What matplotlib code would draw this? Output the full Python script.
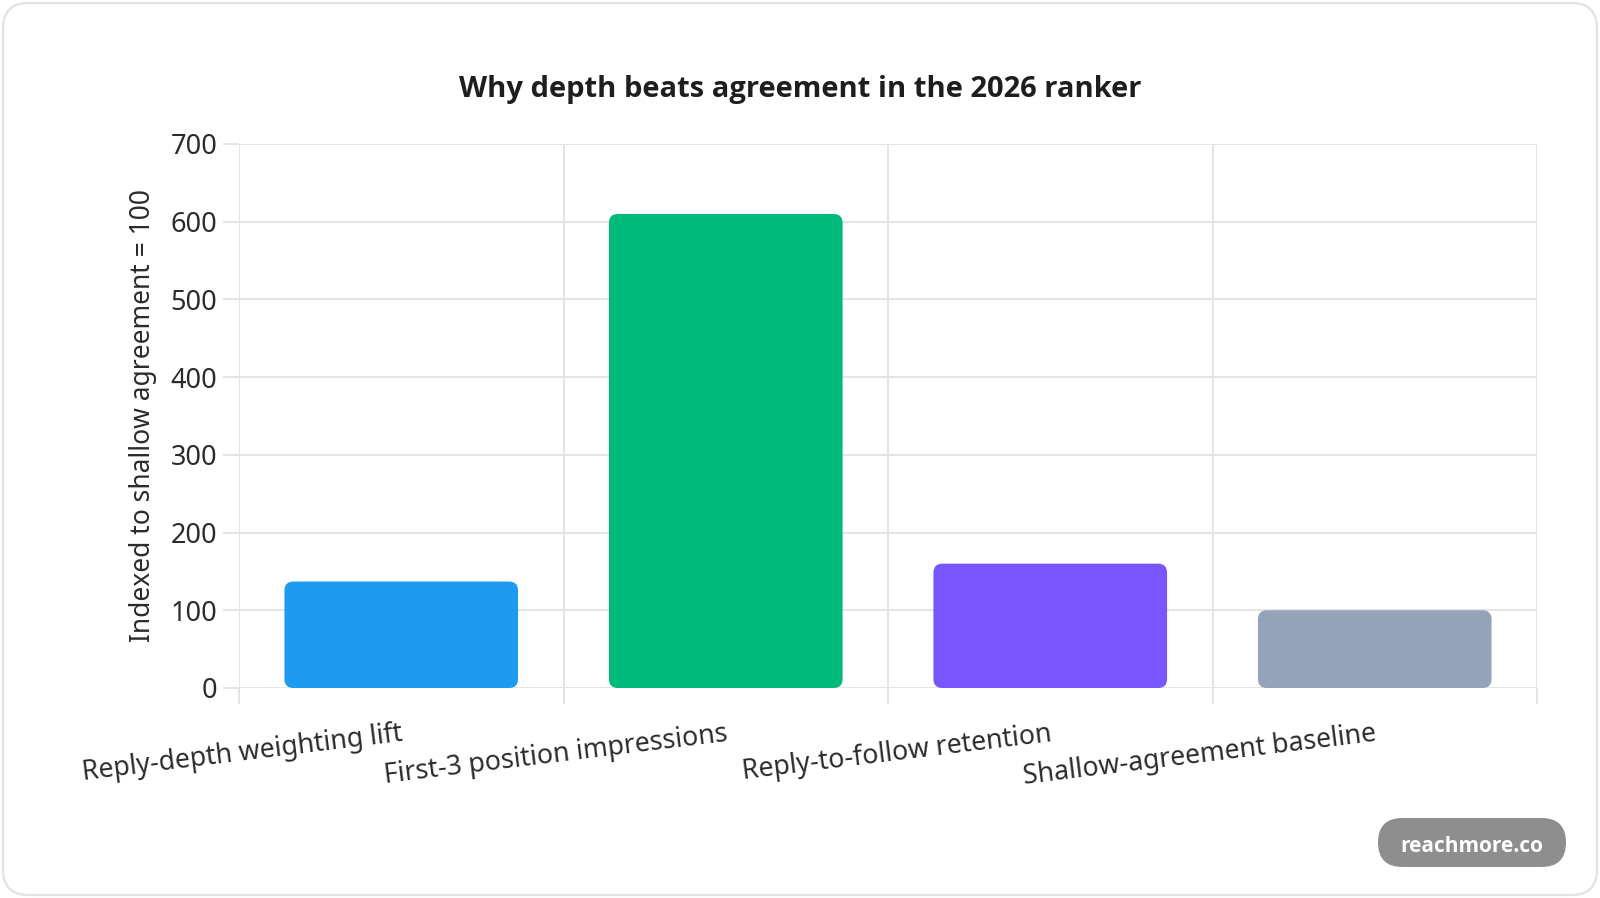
import matplotlib
matplotlib.use("Agg")
import matplotlib.pyplot as plt
from matplotlib.patches import FancyBboxPatch
import numpy as np

plt.rcParams['font.family'] = ['Noto Sans', 'DejaVu Sans']

# data
categories = ['Reply-depth weighting lift', 'First-3 position impressions',
              'Reply-to-follow retention', 'Shallow-agreement baseline']
values = [137, 610, 160, 100]
colors = ['#1D9BF0', '#00BA7C', '#7856FF', '#94A3B8']
y_ticks = [0, 100, 200, 300, 400, 500, 600, 700]

title = 'Why depth beats agreement in the 2026 ranker'
y_label = 'Indexed to shallow agreement = 100'
watermark = 'reachmore.co'

W, H = 1600, 898
fig = plt.figure(figsize=(W / 100, H / 100), dpi=100)
fig.patch.set_facecolor('white')

# card border
card = FancyBboxPatch((3 / W, 3 / H), (W - 6) / W, (H - 6) / H,
                      boxstyle='round,pad=0,rounding_size=0.016',
                      mutation_aspect=W / H,
                      transform=fig.transFigure, facecolor='none',
                      edgecolor='#e2e2e2', linewidth=1.6, zorder=-5)
fig.patches.append(card)

ax = fig.add_axes([239 / W, 1 - 688 / H, (1537 - 239) / W, (688 - 144) / H])
ax.set_facecolor('none')
grid_c = '#e4e4e4'

ax.set_xlim(-0.5, len(categories) - 0.5)
ax.set_ylim(0, 700)

x = np.arange(len(categories))
bars = ax.bar(x, values, width=0.72, color=colors)

# swap the plain bars for rounded ones
fig.canvas.draw()
px_x = ax.transData.transform((1, 0))[0] - ax.transData.transform((0, 0))[0]
px_y = ax.transData.transform((0, 1))[1] - ax.transData.transform((0, 0))[1]
radius_px = 9
for b in bars:
    bx, by = b.get_x(), b.get_y()
    bw, bh = b.get_width(), b.get_height()
    p = FancyBboxPatch((bx, by), bw, bh,
                       boxstyle='round,pad=0,rounding_size=%f' % (radius_px / px_x),
                       mutation_aspect=px_x / px_y,
                       facecolor=b.get_facecolor(), edgecolor='none', zorder=3)
    ax.add_patch(p)
    b.remove()

# grid & ticks (lengths in points, 1px = 0.72pt)
ax.set_yticks(y_ticks)
ax.set_xticks(x)
ax.set_xticks(np.arange(-0.5, len(categories)), minor=True)
ax.grid(True, which='major', axis='y', color=grid_c, linewidth=1.4, zorder=0)
ax.grid(True, which='minor', axis='x', color=grid_c, linewidth=1.4, zorder=0)
for s in ax.spines.values():
    s.set_visible(False)

ax.tick_params(axis='y', length=11.5, width=1.4, color=grid_c, pad=4,
               labelsize=19.5, labelcolor='#2b2b2b')
ax.tick_params(axis='x', which='major', length=0, pad=23)
ax.tick_params(axis='x', which='minor', length=11.5, width=1.4, color=grid_c)
ax.set_xticklabels(categories, rotation=7, ha='right', va='top',
                   rotation_mode='anchor', fontsize=19.2, color='#2b2b2b')

ax.set_ylabel(y_label, fontsize=19, color='#2b2b2b')
ax.yaxis.set_label_coords(-0.0632, 0.5)

fig.text(0.5, 1 - 89 / H, title, ha='center', va='center',
         fontsize=21, fontweight='bold', color='#1e1e1e',
         family=['Open Sans', 'DejaVu Sans'])

# watermark pill
pill = FancyBboxPatch((1378 / W, 1 - 867 / H), (1566 - 1378) / W, 49 / H,
                      boxstyle='round,pad=0,rounding_size=%f' % (24.5 / W),
                      mutation_aspect=W / H, transform=fig.transFigure,
                      facecolor='#8e8e8e', edgecolor='none')
fig.patches.append(pill)
fig.text(1472 / W, 1 - 847 / H, watermark, ha='center', va='center',
         fontsize=15, fontweight='bold', color='white',
         family=['Open Sans', 'DejaVu Sans'])

fig.savefig('out.png', dpi=100)
